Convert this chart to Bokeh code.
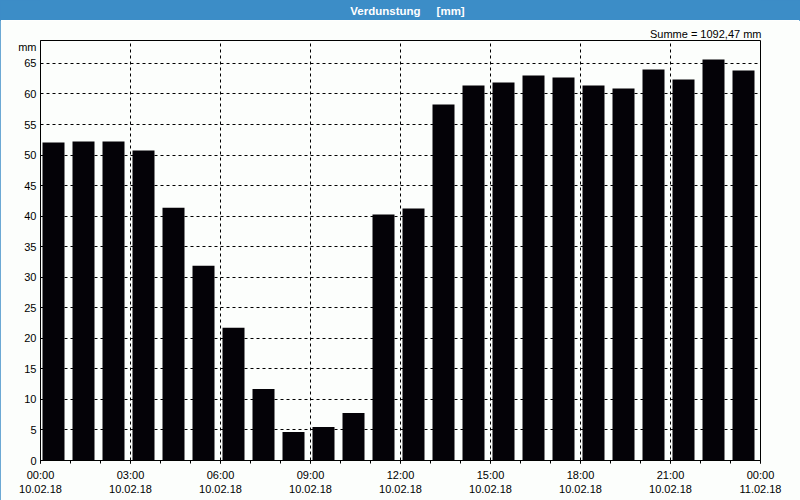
from bokeh.plotting import figure
from bokeh.layouts import column
from bokeh.models import FixedTicker, Range1d
from bokeh.core.properties import value
from bokeh.embed import file_html
from bokeh.resources import INLINE

# ---- data ----
hours = list(range(24))
verdunstung = [52.05, 52.21, 52.21, 50.74, 41.39, 31.89, 21.72, 11.72, 4.67, 5.49,
               7.79, 40.25, 41.23, 58.28, 61.39, 61.89, 63.03, 62.70, 61.39, 60.90,
               64.02, 62.38, 65.66, 63.85]
x_major_ticks = [0, 3, 6, 9, 12, 15, 18, 21, 24]
x_tick_labels = ["00:00\n10.02.18", "03:00\n10.02.18", "06:00\n10.02.18", "09:00\n10.02.18",
                 "12:00\n10.02.18", "15:00\n10.02.18", "18:00\n10.02.18", "21:00\n10.02.18",
                 "00:00\n11.02.18"]
y_ticks = list(range(0, 70, 5))
title_text = "Verdunstung\u00a0\u00a0\u00a0\u00a0\u00a0[mm]"
summe_text = "Summe = 1092,47 mm"
unit_text = "mm"

BLUE = "#3C8DC7"
BG = "#FCFEFC"
FONT = "Liberation Sans"

# ---- header bar ----
head = figure(width=800, height=20, output_backend="svg", toolbar_location=None,
              x_range=Range1d(40, 760), y_range=Range1d(0, 20),
              min_border=0, x_axis_location=None, y_axis_location=None)
head.grid.visible = False
head.outline_line_color = BLUE
head.outline_line_width = 2
head.background_fill_color = BLUE
head.border_fill_color = BLUE
head.text(x=[407], y=[10], text=[title_text], text_font=value(FONT),
          text_font_style="bold", text_font_size="11.5px", text_color="white",
          text_align="center", text_baseline="middle")

# ---- main plot ----
p = figure(width=800, height=480, output_backend="svg", toolbar_location=None,
           x_range=Range1d(0, 24), y_range=Range1d(0, 68.75),
           min_border_left=40, min_border_right=40, min_border_top=20, min_border_bottom=40,
           title=summe_text, title_location="above")
p.title.align = "right"
p.title.text_font = FONT
p.title.text_font_size = "11px"
p.title.text_font_style = "normal"
p.title.text_color = "black"
p.title.standoff = 2
p.title.offset = -1
p.background_fill_color = BG
p.border_fill_color = BG
p.outline_line_color = "black"
p.outline_line_width = 1

bar_x = [h + 13.0 / 30.0 for h in hours]
p.vbar(x=bar_x, top=verdunstung, width=22.0 / 30.0, bottom=0,
       fill_color="#040207", line_color=None)

xt = FixedTicker(ticks=x_major_ticks, minor_ticks=hours + [24])
p.xaxis.ticker = xt
p.xaxis.major_label_overrides = {t: l for t, l in zip(x_major_ticks, x_tick_labels)}
p.xaxis.major_tick_in = 0
p.xaxis.major_tick_out = 3
p.xaxis.minor_tick_in = 0
p.xaxis.minor_tick_out = 3
p.xaxis.major_label_standoff = 5

# unit label "mm" sits at the top of the y axis, like a tick label
unit_pos = 67.75
yt_grid = FixedTicker(ticks=y_ticks, minor_ticks=[])
p.yaxis.ticker = FixedTicker(ticks=y_ticks + [unit_pos], minor_ticks=[])
p.yaxis.major_label_overrides = {unit_pos: unit_text}
p.yaxis.major_tick_in = 0
p.yaxis.major_tick_out = 0
p.yaxis.minor_tick_in = 0
p.yaxis.minor_tick_out = 0
p.yaxis.major_label_standoff = 4

for ax in (p.xaxis, p.yaxis):
    ax.axis_line_color = "black"
    ax.major_tick_line_color = "black"
    ax.minor_tick_line_color = "black"
    ax.major_label_text_font = FONT
    ax.major_label_text_font_size = "11px"
    ax.major_label_text_color = "black"

p.xgrid.ticker = xt
p.ygrid.ticker = yt_grid
p.grid.grid_line_color = "black"
p.grid.grid_line_dash = "3 3"
p.grid.grid_line_width = 1
p.grid.grid_line_alpha = 1.0

layout = column(head, p, spacing=0,
                styles={"outline": "1px solid " + BLUE, "outline-offset": "-1px"})
open("out.html", "w").write(file_html(layout, INLINE))
